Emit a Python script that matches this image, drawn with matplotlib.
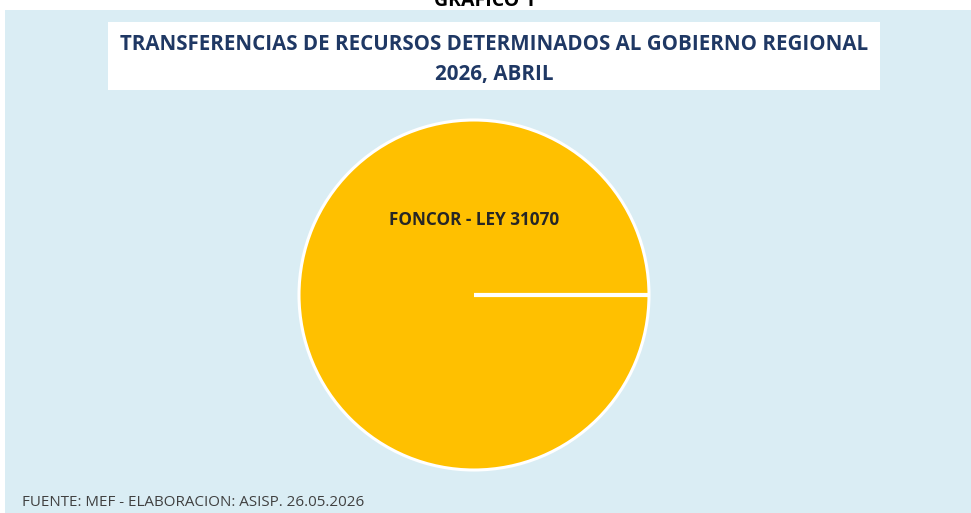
import numpy as np
import matplotlib.pyplot as plt
from matplotlib.patches import Rectangle

# Data
categories = ["FONCOR - LEY 31070"]
values = [100.0]
slice_colors = ["#FFC000"]

title_line1 = "TRANSFERENCIAS DE RECURSOS DETERMINADOS AL GOBIERNO REGIONAL"
title_line2 = "2026, ABRIL"
source_note = "FUENTE: MEF - ELABORACION: ASISP. 26.05.2026"
header = "GRAFICO 1"

W, H = 971, 513
fig = plt.figure(figsize=(W / 100, H / 100), dpi=100, facecolor="white")


def px_box(x0, y0, x1, y1):
    # pixel box (top-left origin) -> figure fraction [left, bottom, width, height]
    return [x0 / W, 1 - y1 / H, (x1 - x0) / W, (y1 - y0) / H]


# Light blue panel
l, b, w, h = px_box(5, 10, W, H)
fig.patches.append(Rectangle((l, b), w, h, transform=fig.transFigure,
                             facecolor="#DAEDF4", edgecolor="none", zorder=-2))

# White title box
l, b, w, h = px_box(108, 22, 880, 90)
fig.patches.append(Rectangle((l, b), w, h, transform=fig.transFigure,
                             facecolor="white", edgecolor="none", zorder=-1))

title_font = dict(family=["Open Sans", "DejaVu Sans"], fontweight="bold",
                  color="#1F3864", ha="center", va="center")
fig.text(494 / W, 1 - 45 / H, title_line1, fontsize=14.8, **title_font)
fig.text(494 / W, 1 - 75 / H, title_line2, fontsize=14.8, **title_font)

# Cut-off header at the very top (clipped in the original too)
fig.text(485 / W, 1 - 1 / H, header, fontsize=14, fontweight="bold",
         family=["Open Sans", "DejaVu Sans"], color="black",
         ha="center", va="center")

# Pie
ax = fig.add_axes(px_box(299, 120, 649, 470))
wedges, _ = ax.pie(values, colors=slice_colors, startangle=0, counterclock=True,
                   radius=1.0, wedgeprops=dict(edgecolor="white", linewidth=2.2))

# full-circle wedge has no radial edge -> draw the slice boundary
for wd in wedges:
    cx, cy = wd.center
    t = np.deg2rad(wd.theta1)
    ax.plot([cx, cx + wd.r * np.cos(t)], [cy, cy + wd.r * np.sin(t)],
            color="white", linewidth=3, solid_capstyle="butt", zorder=3)

ax.set_xlim(-1.0, 1.0)
ax.set_ylim(-1.0, 1.0)
ax.set_aspect("equal")
ax.axis("off")
ax.text(0.0, 0.43, categories[0], ha="center", va="center", fontsize=12.3,
        fontweight="bold", family=["Open Sans", "DejaVu Sans"], color="#262626")

# Source note
fig.text(22 / W, 1 - 503 / H, source_note, fontsize=10.9,
         family=["Open Sans", "DejaVu Sans"], color="#404040",
         ha="left", va="center")

fig.savefig("out.png", dpi=100, facecolor="white")
